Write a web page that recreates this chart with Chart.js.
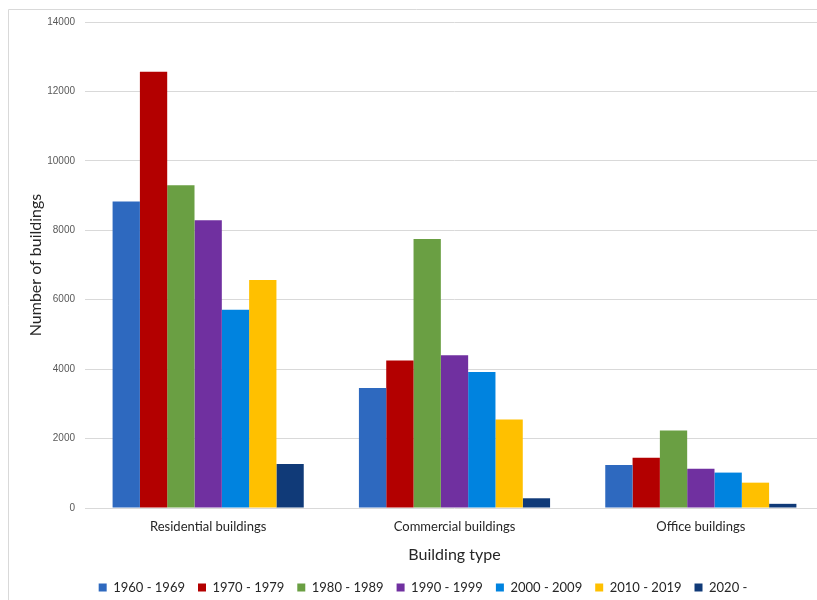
<!DOCTYPE html>
<html>
<head>
<meta charset="utf-8">
<script src="https://cdn.jsdelivr.net/npm/chart.js@4"></script>
<style>
  html, body { margin: 0; padding: 0; background: #ffffff; overflow: hidden; }
  #wrap { position: relative; width: 824px; height: 600px; }
</style>
</head>
<body>
<div id="wrap"><canvas id="c"></canvas></div>
<script>
// Building counts by construction decade, per building type
const categories = ['Residential buildings', 'Commercial buildings', 'Office buildings'];
const periods = ['1960 - 1969', '1970 - 1979', '1980 - 1989', '1990 - 1999', '2000 - 2009', '2010 - 2019', '2020 -'];
const s1960 = [8830, 3460, 1240];
const s1970 = [12570, 4250, 1450];
const s1980 = [9300, 7750, 2230];
const s1990 = [8290, 4400, 1130];
const s2000 = [5710, 3920, 1020];
const s2010 = [6570, 2550, 730];
const s2020 = [1270, 280, 120];
const yTicks = [0, 2000, 4000, 6000, 8000, 10000, 12000, 14000];

const seriesValues = [s1960, s1970, s1980, s1990, s2000, s2010, s2020];
const colors = ['#2E69BF', '#B30000', '#6A9F43', '#7030A0', '#0083DF', '#FFC000', '#103A78'];

const FONT = 'Lato, "Open Sans", sans-serif';

// Thin frame around the chart area (top and left edges visible)
const framePlugin = {
  id: 'frame',
  beforeDraw(chart) {
    const ctx = chart.ctx;
    ctx.save();
    ctx.strokeStyle = '#D9D9D9';
    ctx.lineWidth = 1;
    ctx.beginPath();
    ctx.moveTo(8.5, 620);
    ctx.lineTo(8.5, 9.5);
    ctx.lineTo(900, 9.5);
    ctx.stroke();
    ctx.restore();
  }
};

new Chart(document.getElementById('c'), {
  type: 'bar',
  data: {
    labels: categories,
    datasets: periods.map((p, i) => ({
      label: p,
      data: seriesValues[i],
      backgroundColor: colors[i],
      borderWidth: 0,
      categoryPercentage: 0.776,
      barPercentage: 1.0
    }))
  },
  options: {
    responsive: true,
    maintainAspectRatio: false,
    animation: false,
    layout: { padding: { left: 22, top: 22, right: 0, bottom: -4 } },
    plugins: {
      tooltip: { enabled: false },
      legend: {
        position: 'bottom',
        align: 'center',
        labels: {
          boxWidth: 8,
          boxHeight: 8,
          padding: 13,
          color: '#262626',
          font: { family: FONT, size: 13 }
        }
      }
    },
    scales: {
      x: {
        grid: { display: false, drawTicks: false },
        border: { display: false },
        ticks: { color: '#262626', padding: 11, font: { family: FONT, size: 13 } },
        title: {
          display: true,
          text: 'Building type',
          color: '#262626',
          font: { family: FONT, size: 16 },
          padding: { top: 8, bottom: 4 }
        },
        afterFit(s) { s.height = 60; }
      },
      y: {
        min: 0,
        max: 14000,
        afterBuildTicks(s) { s.ticks = yTicks.map(v => ({ value: v })); },
        grid: { color: '#D9D9D9', drawTicks: false },
        border: { display: false },
        ticks: {
          color: '#595959',
          padding: 10,
          font: { family: '"Liberation Sans", Arial, sans-serif', size: 10 },
          callback: v => String(v)
        },
        title: {
          display: true,
          text: 'Number of buildings',
          color: '#262626',
          font: { family: FONT, size: 16 },
          padding: { top: 4, bottom: 4 }
        },
        afterFit(s) { s.width = 63; }
      }
    }
  },
  plugins: [framePlugin]
});
</script>
</body>
</html>
